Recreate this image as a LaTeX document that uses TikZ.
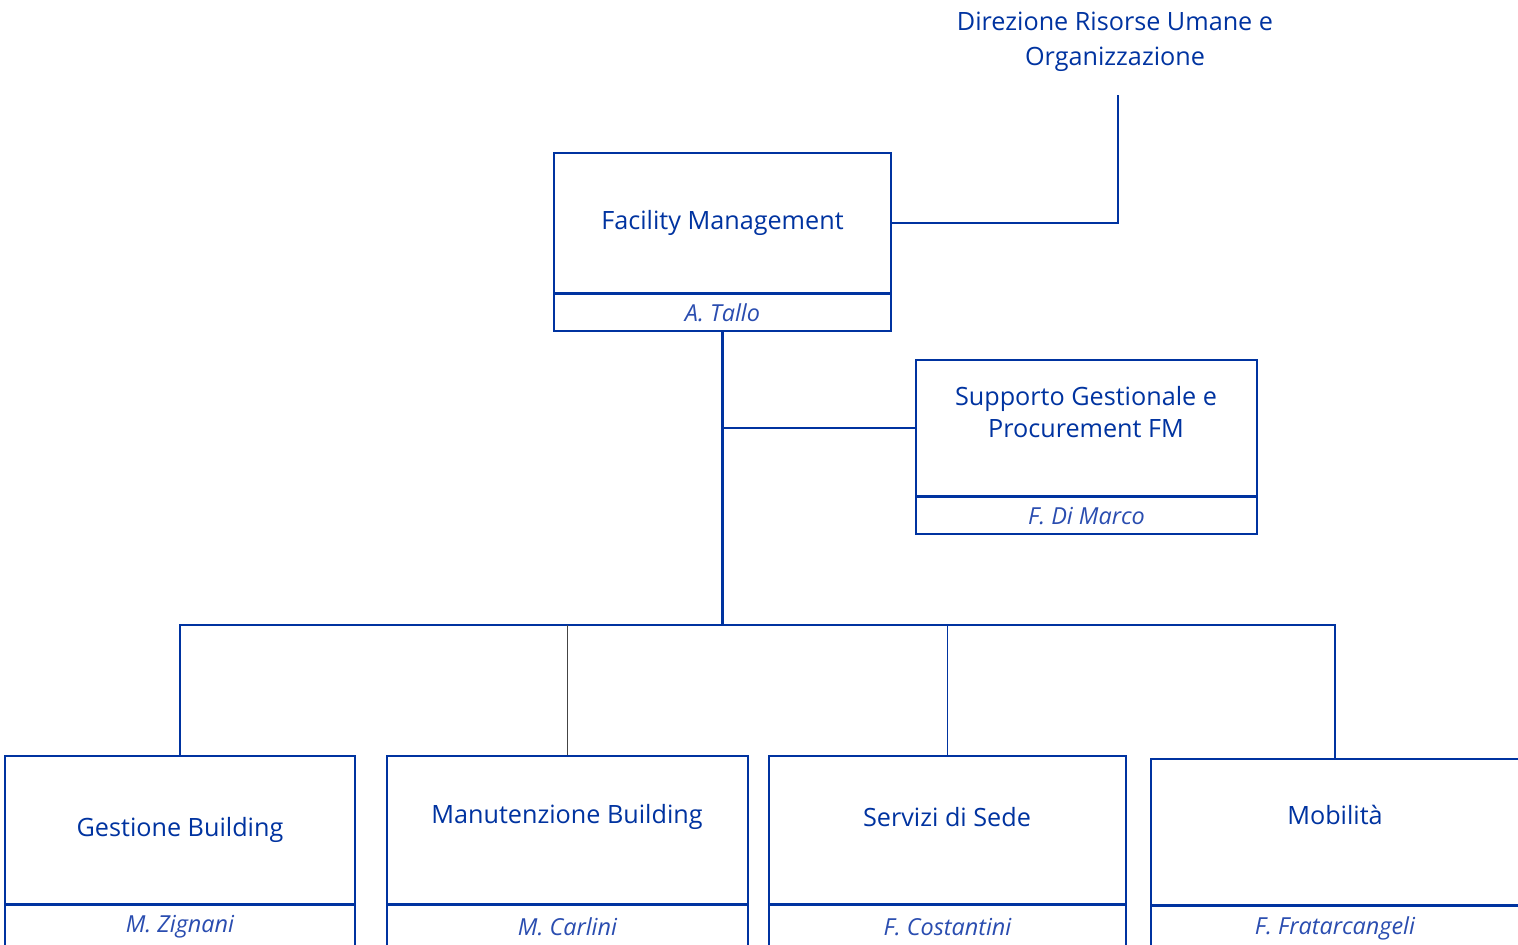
\documentclass[tikz,border=0pt]{standalone}
\usepackage{fontspec}
\setmainfont{Open Sans}
\usepackage{xcolor}
\usetikzlibrary{positioning}

\definecolor{orgblue}{HTML}{0033A0}
\definecolor{orgname}{HTML}{2A4DB0}
\definecolor{orggray}{HTML}{444444}

\begin{document}
\begin{tikzpicture}[
    x=0.03cm, y=-0.03cm,
    unitbox/.style={rectangle, draw=orgblue, line width=1.4pt, fill=white,
                    inner sep=0pt},
    namebox/.style={rectangle, draw=orgblue, line width=1.4pt, fill=white,
                    inner sep=0pt, minimum height=1.1cm,
                    font=\fontsize{20}{24}\selectfont\itshape, text=orgname},
    title/.style={font=\fontsize{21.5}{27}\selectfont, text=orgblue, align=center},
    link/.style={draw=orgblue, line width=1.4pt},
]
\useasboundingbox (0,0) rectangle (1518,944);

% top: Direzione
\node[title] (dir) at (1115,42) {Direzione Risorse Umane e\\[3pt]Organizzazione};
\coordinate (dirfoot) at (1118,95);

% Facility Management
\node[unitbox, minimum width=10.11cm, minimum height=4.2cm, anchor=north] (fm) at (722.5,152) {};
\node[title] at (fm.center) {Facility Management};
\node[namebox, minimum width=10.11cm, below=0pt of fm] (fmname) {A. Tallo};
\draw[orgblue, line width=2.6pt] (fm.south west) -- (fm.south east);

% Supporto Gestionale
\node[unitbox, minimum width=10.23cm, minimum height=4.08cm, anchor=north] (sg) at (1086.5,359) {};
\node[title] at (1086,412) {Supporto Gestionale e\\[0pt]Procurement FM};
\node[namebox, minimum width=10.23cm, below=0pt of sg] (sgname) {F. Di Marco};
\draw[orgblue, line width=2.6pt] (sg.south west) -- (sg.south east);

% bottom row
\node[unitbox, minimum width=10.5cm, minimum height=4.44cm, anchor=north] (gb) at (180,755) {};
\node[title] at (180,830) {Gestione Building};
\node[namebox, minimum width=10.5cm, minimum height=1.3cm, below=0pt of gb] (gbname) {M. Zignani};

\node[unitbox, minimum width=10.83cm, minimum height=4.44cm, anchor=north] (mb) at (567.5,755) {};
\node[title] at (567,817) {Manutenzione Building};
\node[namebox, minimum width=10.83cm, minimum height=1.3cm, below=0pt of mb] (mbname) {M. Carlini};

\node[unitbox, minimum width=10.71cm, minimum height=4.44cm, anchor=north] (ss) at (947.5,755) {};
\node[title] at (947,817) {Servizi di Sede};
\node[namebox, minimum width=10.71cm, minimum height=1.3cm, below=0pt of ss] (ssname) {F. Costantini};

\node[unitbox, minimum width=11.04cm, minimum height=4.38cm, anchor=north] (mo) at (1335,758) {};
\node[title] at (1335,815) {Mobilità};
\node[namebox, minimum width=11.04cm, minimum height=1.3cm, below=0pt of mo] (moname) {F. Fratarcangeli};

\foreach \b in {gb,mb,ss,mo}
  \draw[orgblue, line width=2.6pt] (\b.south west) -- (\b.south east);

% connectors
\draw[link] (fm.east) -| (dirfoot);
\coordinate (bus) at (722.5,625);
\draw[orgblue, line width=2.2pt] (fmname.south) -- (bus);
\draw[link] (fmname.south |- sg.west) -- (sg.west);
\draw[link] (gb.north) |- (bus) -| (mo.north);
\draw[draw=orggray, line width=1.5pt] (mb.north) -- (mb.north |- bus);
\draw[link] (ss.north) -- (ss.north |- bus);
\end{tikzpicture}
\end{document}
